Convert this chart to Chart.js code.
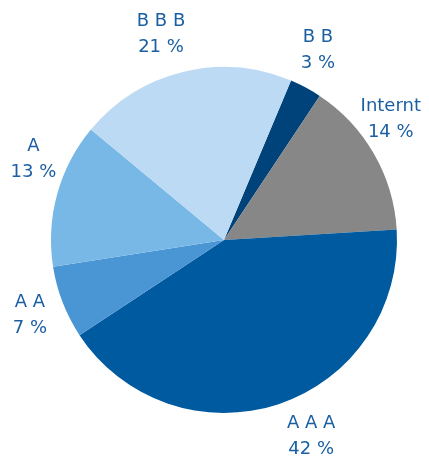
<!DOCTYPE html>
<html>
<head>
<meta charset="utf-8">
<script src="https://cdn.jsdelivr.net/npm/chart.js@4"></script>
<style>
    html, body { margin: 0; padding: 0; background: #ffffff; }
    #wrap { width: 429px; height: 456px; }
</style>
</head>
<body>
<div id="wrap"><canvas id="pie-chart" width="429" height="456"></canvas></div>
<script>
const categories = ['B B', 'Internt', 'A A A', 'A A', 'A', 'B B B'];
const shares = [3.0, 14.7, 41.7, 6.8, 13.5, 20.3];
const shareLabels = ['3 %', '14 %', '42 %', '7 %', '13 %', '21 %'];
const sliceColors = ['#00437a', '#878787', '#005aa0', '#4a95d4', '#78b8e6', '#bcdaf3'];

// label placement tweaks: angle nudge (deg) and gap outside the pie (px)
const labelNudge = [-1.9, -6, -5.5, 0, 7.6, -3.3];
const labelGap = [39, 33, 42, 35, 34, 42];

const labelPlugin = {
    id: 'outerLabels',
    afterDatasetsDraw(chart) {
        const ctx = chart.ctx;
        const meta = chart.getDatasetMeta(0);
        ctx.save();
        ctx.font = '18px "DejaVu Sans"';
        ctx.fillStyle = '#1b5fa3';
        ctx.textAlign = 'center';
        ctx.textBaseline = 'middle';
        meta.data.forEach((arc, i) => {
            const mid = (arc.startAngle + arc.endAngle) / 2 + labelNudge[i] * Math.PI / 180;
            const r = arc.outerRadius + labelGap[i];
            const x = arc.x + Math.cos(mid) * r;
            const y = arc.y + Math.sin(mid) * r;
            ctx.fillText(categories[i], x, y - 13);
            ctx.fillText(shareLabels[i], x, y + 13);
        });
        ctx.restore();
    }
};

const ctx = document.getElementById('pie-chart').getContext('2d');
new Chart(ctx, {
    type: 'pie',
    data: {
        labels: categories,
        datasets: [{
            data: shares,
            backgroundColor: sliceColors,
            borderWidth: 0
        }]
    },
    options: {
        responsive: false,
        animation: false,
        rotation: 22.8,
        layout: {
            padding: { left: 51, right: 32, top: 67, bottom: 43 }
        },
        plugins: {
            legend: { display: false },
            tooltip: { enabled: false }
        }
    },
    plugins: [labelPlugin]
});
</script>
</body>
</html>
